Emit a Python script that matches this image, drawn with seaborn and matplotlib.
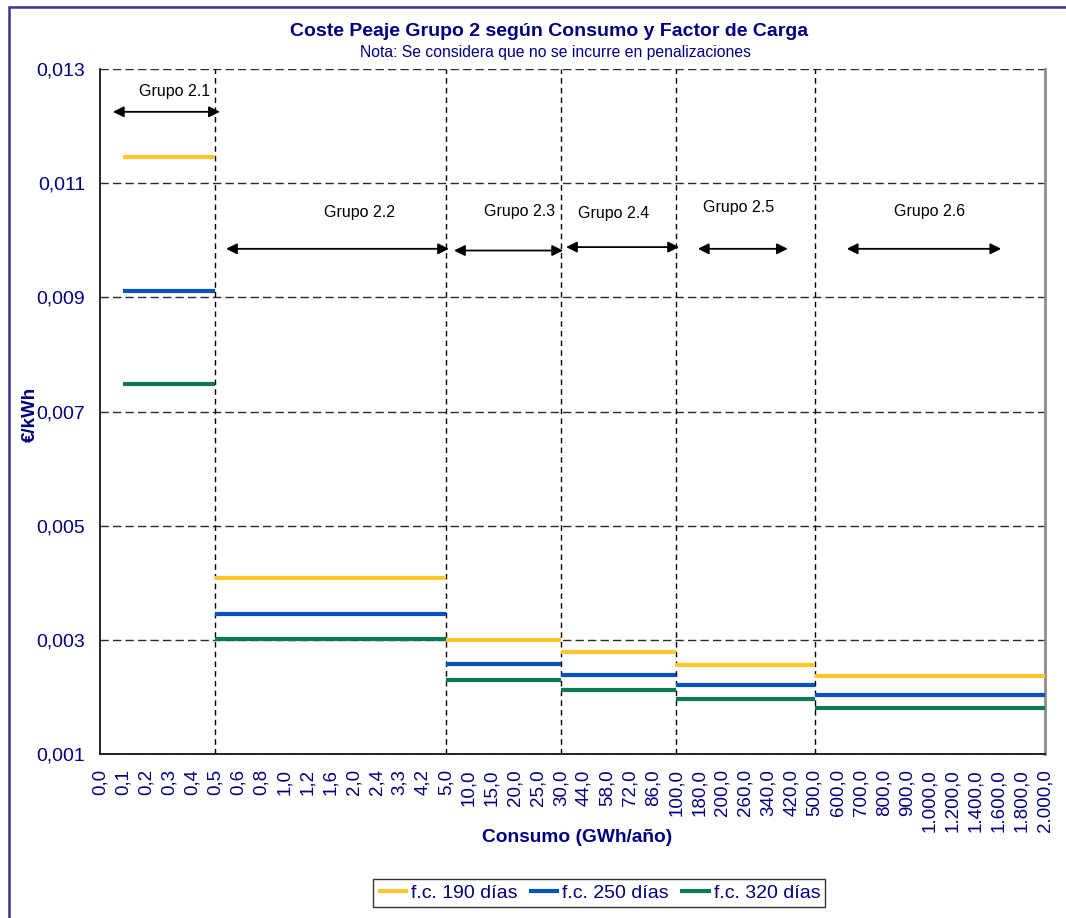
import numpy as np
import pandas as pd
import matplotlib
matplotlib.use("Agg")
import matplotlib.pyplot as plt
from matplotlib.lines import Line2D
from matplotlib.patches import Rectangle
import seaborn as sns

# Categorías del eje X (consumo anual, GWh/año)
consumo_labels = [
    "0,0", "0,1", "0,2", "0,3", "0,4", "0,5", "0,6", "0,8", "1,0", "1,2",
    "1,6", "2,0", "2,4", "3,3", "4,2", "5,0", "10,0", "15,0", "20,0", "25,0",
    "30,0", "44,0", "58,0", "72,0", "86,0", "100,0", "180,0", "200,0", "260,0",
    "340,0", "420,0", "500,0", "600,0", "700,0", "800,0", "900,0", "1.000,0",
    "1.200,0", "1.400,0", "1.600,0", "1.800,0", "2.000,0",
]

# Tramos de peaje: inicio y fin de cada tramo sobre el eje de consumo
tramos = ["Grupo 2.1", "Grupo 2.2", "Grupo 2.3", "Grupo 2.4", "Grupo 2.5", "Grupo 2.6"]
tramo_inicio = ["0,1", "0,5", "5,0", "30,0", "100,0", "500,0"]
tramo_fin = ["0,5", "5,0", "30,0", "100,0", "500,0", "2.000,0"]

# Coste del peaje (€/kWh) por factor de carga
series = ["f.c. 190 días", "f.c. 250 días", "f.c. 320 días"]
fc_190 = [0.01146, 0.00408, 0.00300, 0.00278, 0.00256, 0.00237]
fc_250 = [0.00911, 0.00345, 0.00258, 0.00238, 0.00221, 0.00204]
fc_320 = [0.00748, 0.00301, 0.00229, 0.00212, 0.00196, 0.00181]

y_ticks = [0.001, 0.003, 0.005, 0.007, 0.009, 0.011, 0.013]

colores = {"f.c. 190 días": "#FFC729", "f.c. 250 días": "#0652C4", "f.c. 320 días": "#0A7A55"}
navy = "#000080"

# Tabla larga: un segmento horizontal por tramo y serie
filas = []
for serie, valores in zip(series, [fc_190, fc_250, fc_320]):
    for tramo, ini, fin, v in zip(tramos, tramo_inicio, tramo_fin, valores):
        for lab in (ini, fin):
            filas.append({"serie": serie, "tramo": tramo,
                          "pos": consumo_labels.index(lab), "coste": v})
df = pd.DataFrame(filas)

sns.set_theme(style="white")
plt.rcParams["font.family"] = ["Liberation Sans", "DejaVu Sans"]

fig = plt.figure(figsize=(10.66, 9.18), dpi=100)
ax = fig.add_axes([100 / 1066, 1 - 754 / 918, 945 / 1066, 685 / 918])

# Rejilla horizontal discontinua
for yv in y_ticks:
    ax.axhline(yv, color="#2a2a2a", lw=1.0, dashes=(6, 3), zorder=1)

# Separadores entre tramos
for lab in tramo_fin[:-1]:
    ax.axvline(consumo_labels.index(lab), color="black", lw=1.0, dashes=(4, 3), zorder=2)

sns.lineplot(data=df, x="pos", y="coste", hue="serie", units="tramo",
             estimator=None, sort=False, palette=colores, linewidth=3.0,
             legend=False, ax=ax, zorder=3)
for ln in ax.get_lines():
    ln.set_solid_capstyle("butt")

ax.set_xlim(0, len(consumo_labels) - 1)
ax.set_ylim(0.001, 0.013)

ax.set_xticks(range(len(consumo_labels)))
ax.set_xticklabels(consumo_labels, rotation=90, va="top", ha="center",
                   fontsize=13.5, color=navy)
ax.set_yticks(y_ticks)
ax.set_yticklabels([f"{v:.3f}".replace(".", ",") for v in y_ticks],
                   fontsize=14, color=navy)
ax.tick_params(axis="x", direction="in", length=4, width=1, pad=11, color="black")
ax.tick_params(axis="y", direction="inout", length=9.5, width=1, pad=6, color="black")
ax.set_xlabel("")
ax.set_ylabel("")

for side in ("left", "bottom"):
    ax.spines[side].set_color("black")
    ax.spines[side].set_linewidth(1.2)
ax.spines["right"].set_color("#8c8c8c")
ax.spines["right"].set_linewidth(2)
ax.spines["top"].set_visible(False)

# Flechas y rótulos de cada tramo
flechas = [
    ("Grupo 2.1", 0.56, 5.2, 0.01225, 3.25, 0.01260),
    ("Grupo 2.2", 5.47, 15.14, 0.00985, 11.28, 0.01048),
    ("Grupo 2.3", 15.36, 20.09, 0.00982, 18.2, 0.01050),
    ("Grupo 2.4", 20.22, 25.12, 0.00988, 22.3, 0.01046),
    ("Grupo 2.5", 25.94, 29.84, 0.00985, 27.7, 0.01057),
    ("Grupo 2.6", 32.4, 39.1, 0.00985, 36.0, 0.01051),
]
for texto, x0, x1, ya, xt, yt in flechas:
    ax.annotate("", xy=(x1, ya), xytext=(x0, ya),
                arrowprops=dict(arrowstyle="<|-|>", color="black", lw=1.3,
                                mutation_scale=16, shrinkA=0, shrinkB=0),
                zorder=4)
    ax.text(xt, yt, texto, ha="center", va="center", fontsize=11.5, color="black")

# Títulos y etiquetas de ejes
fig.text(549 / 1066, 1 - 31 / 918, "Coste Peaje Grupo 2 según Consumo y Factor de Carga",
         ha="center", va="center", fontsize=14, fontweight="bold", color=navy)
fig.text(556 / 1066, 1 - 53 / 918, "Nota: Se considera que no se incurre en penalizaciones",
         ha="center", va="center", fontsize=11.3, color=navy)
fig.text(577 / 1066, 1 - 838 / 918, "Consumo (GWh/año)",
         ha="center", va="center", fontsize=13.8, fontweight="bold", color=navy)
fig.text(30 / 1066, 1 - 414 / 918, "€/kWh", rotation=90,
         ha="center", va="center", fontsize=13.5, fontweight="bold", color=navy)

# Leyenda inferior
handles = [Line2D([0], [0], color=colores[s], lw=3.0, solid_capstyle="butt") for s in series]
leg = fig.legend(handles, series, loc="center", ncol=3,
                 bbox_to_anchor=(599 / 1066, 1 - 893 / 918),
                 fontsize=14, frameon=True, fancybox=False, shadow=False,
                 handlelength=1.55, handletextpad=0.15, columnspacing=0.6,
                 borderpad=0.25, borderaxespad=0)
leg.get_frame().set_edgecolor("black")
leg.get_frame().set_linewidth(1.0)
for t in leg.get_texts():
    t.set_color(navy)

# Marco del área del gráfico
fig.patches.append(Rectangle((9 / 1066, -0.02), 1.2, 1 - 7 / 918 + 0.02,
                             transform=fig.transFigure, fill=False,
                             edgecolor="#333399", lw=1.8, clip_on=False))

fig.savefig("out.png", dpi=100)
